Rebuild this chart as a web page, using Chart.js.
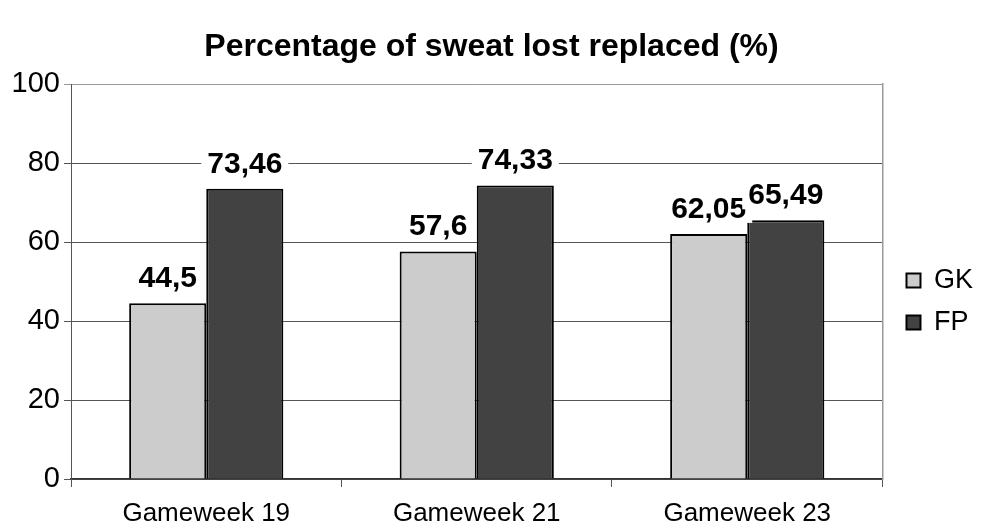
<!DOCTYPE html>
<html lang="en">
<head>
    <meta charset="UTF-8">
    <title>Percentage of sweat lost replaced</title>
    <script src="https://cdn.jsdelivr.net/npm/chart.js"></script>
    <style>
        body {
            margin: 0;
            padding: 0;
            background: #fff;
        }
        #chartBox {
            width: 983px;
            height: 527px;
        }
    </style>
</head>
<body>
    <div id="chartBox">
        <canvas id="sweatChart" width="983" height="527"></canvas>
    </div>

    <script>
        // Data
        const gameweeks = ['Gameweek 19', 'Gameweek 21', 'Gameweek 23'];
        const gkValues = [44.5, 57.6, 62.05];
        const fpValues = [73.46, 74.33, 65.49];
        const gkLabels = ['44,5', '57,6', '62,05'];
        const fpLabels = ['73,46', '74,33', '65,49'];

        const fontFamily = '"Liberation Sans", Arial, sans-serif';

        // Draws the value above each bar, on a white patch like the original
        const valueLabels = {
            id: 'valueLabels',
            afterDatasetsDraw(chart) {
                const ctx = chart.ctx;
                ctx.save();
                ctx.font = 'bold 30px ' + fontFamily;
                ctx.textAlign = 'center';
                ctx.textBaseline = 'alphabetic';
                chart.data.datasets.forEach((ds, i) => {
                    const meta = chart.getDatasetMeta(i);
                    meta.data.forEach((bar, j) => {
                        const text = ds.valueText[j];
                        const w = ctx.measureText(text).width;
                        const y = bar.y - 16;
                        ctx.fillStyle = '#fff';
                        ctx.fillRect(bar.x - w / 2 - 6, y - 26, w + 12, 31);
                        ctx.fillStyle = '#000';
                        ctx.fillText(text, bar.x, y);
                    });
                });
                ctx.restore();
            }
        };

        const ctx = document.getElementById('sweatChart').getContext('2d');
        const sweatChart = new Chart(ctx, {
            type: 'bar',
            data: {
                labels: gameweeks,
                datasets: [{
                    label: 'GK',
                    data: gkValues,
                    valueText: gkLabels,
                    backgroundColor: '#cccccc',
                    borderColor: '#000',
                    borderWidth: 2,
                    categoryPercentage: 0.57,
                    barPercentage: 1.0
                }, {
                    label: 'FP',
                    data: fpValues,
                    valueText: fpLabels,
                    backgroundColor: '#424242',
                    borderColor: '#000',
                    borderWidth: 2,
                    categoryPercentage: 0.57,
                    barPercentage: 1.0
                }]
            },
            options: {
                responsive: false,
                animation: false,
                layout: { padding: 0 },
                plugins: {
                    title: {
                        display: true,
                        text: 'Percentage of sweat lost replaced (%)',
                        color: '#000',
                        font: { family: fontFamily, size: 32, weight: 'bold', lineHeight: 1.2 },
                        padding: { top: 28, bottom: 17.6 }
                    },
                    legend: {
                        position: 'right',
                        // empty title only pushes the two entries down to the middle of the plot
                        title: {
                            display: true,
                            text: '',
                            font: { size: 10, lineHeight: 1.2 },
                            padding: { top: 32, bottom: 32 }
                        },
                        labels: {
                            color: '#000',
                            font: { family: fontFamily, size: 27 },
                            boxWidth: 14,
                            boxHeight: 14,
                            padding: 15
                        }
                    },
                    tooltip: { enabled: false }
                },
                scales: {
                    x: {
                        grid: {
                            drawOnChartArea: false,
                            drawTicks: true,
                            tickLength: 8,
                            color: '#555'
                        },
                        border: { color: '#333', width: 1.5 },
                        ticks: {
                            color: '#000',
                            font: { family: fontFamily, size: 26 },
                            padding: 11
                        },
                        afterFit: scale => { scale.height = 48; }
                    },
                    y: {
                        min: 0,
                        max: 100,
                        ticks: {
                            stepSize: 20,
                            color: '#000',
                            font: { family: fontFamily, size: 29 },
                            padding: 4
                        },
                        grid: {
                            color: c => (c.tick && c.tick.value === 100) ? '#999' : '#555',
                            tickLength: 7
                        },
                        border: { color: '#555' },
                        afterFit: scale => { scale.width = 71; }
                    },
                    y2: {
                        position: 'right',
                        min: 0,
                        max: 100,
                        ticks: { display: false },
                        grid: { drawOnChartArea: false, drawTicks: false },
                        border: { color: '#999', width: 1.5 },
                        afterFit: scale => { scale.width = 9; }
                    }
                }
            },
            plugins: [valueLabels]
        });
    </script>
</body>
</html>
